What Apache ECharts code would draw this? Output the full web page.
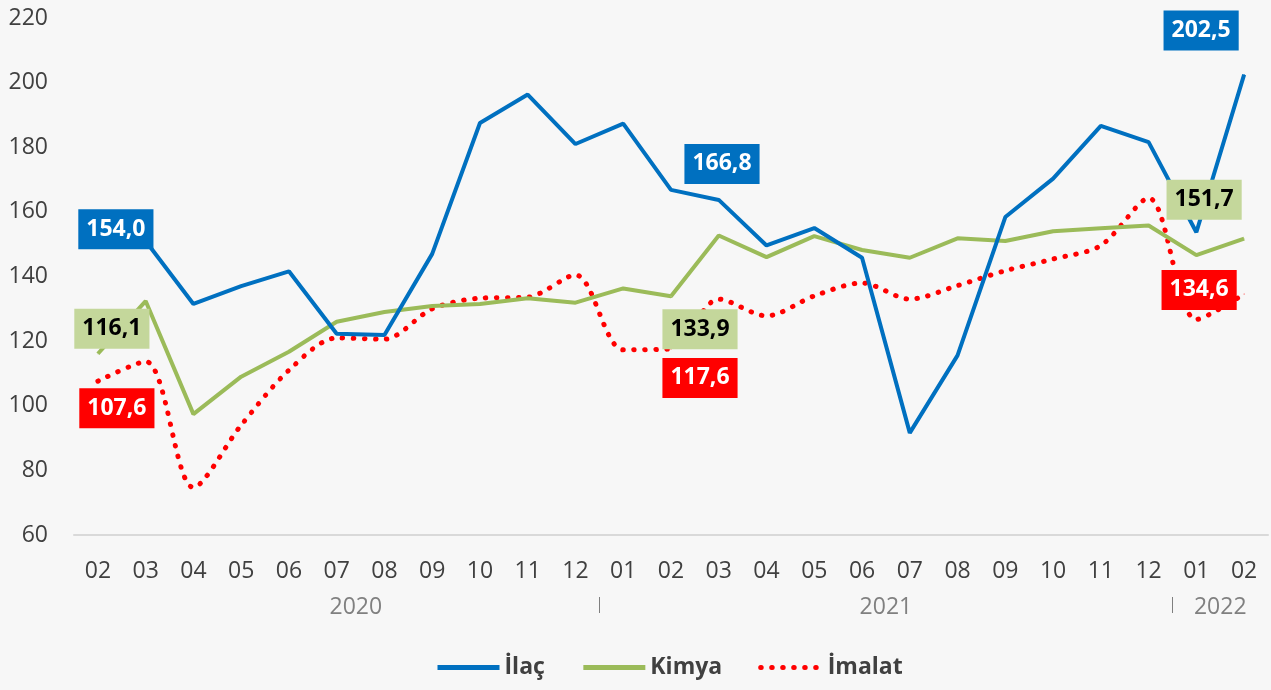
<!DOCTYPE html>
<html>
<head>
<meta charset="utf-8">
<script src="https://cdn.jsdelivr.net/npm/echarts@6/dist/echarts.min.js"></script>
<style>
  html, body { margin: 0; padding: 0; background: #f7f7f7; }
  #chart { width: 1271px; height: 690px; }
</style>
</head>
<body>
<div id="chart"></div>
<script>
// aylar: 2020-02 .. 2022-02
var months = ['02','03','04','05','06','07','08','09','10','11','12','01','02','03','04','05','06','07','08','09','10','11','12','01','02'];
var years = ['2020', '2021', '2022'];
var yearPos = [5.4, 16.5, 23.5];
var yearSep = [10.5, 22.5];

var ilac   = [154.0, 151.0, 131.5, 137.0, 141.6, 122.3, 121.9, 147.0, 187.5, 196.3, 181.0, 187.3, 166.8, 163.7, 149.6, 155.0, 145.8, 91.6, 115.6, 158.4, 170.3, 186.6, 181.6, 153.7, 202.5];
var kimya  = [116.1, 132.4, 97.4, 109.0, 116.7, 126.0, 129.0, 130.9, 131.5, 133.3, 131.9, 136.3, 133.9, 152.7, 146.0, 152.5, 148.2, 145.8, 151.8, 151.0, 154.0, 154.9, 155.8, 146.6, 151.7];
var imalat = [107.6, 113.7, 74.7, 94.0, 111.0, 121.0, 120.6, 130.0, 133.3, 133.6, 140.5, 117.3, 117.6, 133.0, 127.8, 134.0, 138.0, 133.0, 137.2, 141.8, 145.4, 149.6, 164.3, 126.7, 134.6];

var labelIdx = [0, 12, 24];

function fmt(v) { return v.toFixed(1).replace('.', ','); }

// etiketler ayri seri olarak, cizgilerin ustunde
function labelSeries(name, values, offsets, bg, fg) {
    return {
        name: name,
        type: 'scatter',
        z: 10,
        symbolSize: 1,
        itemStyle: { color: bg, opacity: 1 },
        silent: true,
        data: labelIdx.map(function (i, k) {
            return {
                value: [i, values[i]],
                label: {
                    show: true,
                    position: 'inside',
                    offset: offsets[k],
                    formatter: function (p) { return fmt(p.value[1]); },
                    backgroundColor: bg,
                    color: fg,
                    opacity: 1,
                    fontFamily: 'Open Sans',
                    fontWeight: 'bold',
                    fontSize: 23,
                    lineHeight: 26,
                    padding: [7, 8]
                }
            };
        })
    };
}

var chart = echarts.init(document.getElementById('chart'));

var option = {
    backgroundColor: '#f7f7f7',
    animation: false,
    grid: { left: 74, right: 3, top: 18, bottom: 155 },
    legend: {
        bottom: 6,
        left: 430,
        itemWidth: 62,
        itemHeight: 14,
        itemGap: 36,
        itemStyle: { opacity: 0 },
        lineStyle: { width: 5 },
        textStyle: { fontFamily: 'Open Sans', fontWeight: 'bold', fontSize: 23, color: '#404040' },
        data: ['İlaç', 'Kimya', 'İmalat']
    },
    xAxis: [
        {
            type: 'category',
            data: months,
            boundaryGap: true,
            axisLine: { lineStyle: { color: '#d9d9d9', width: 2 } },
            axisTick: { show: false },
            axisLabel: { margin: 25, fontFamily: 'Open Sans', fontSize: 23, color: '#404040' }
        },
        {
            type: 'value',
            position: 'bottom',
            offset: 62,
            min: -0.5,
            max: 24.5,
            axisLine: { show: false },
            splitLine: { show: false },
            axisTick: {
                show: true,
                customValues: yearSep,
                length: 16,
                lineStyle: { color: '#7f7f7f', width: 1 }
            },
            axisLabel: {
                customValues: yearPos,
                margin: -1,
                fontFamily: 'Open Sans',
                fontSize: 23,
                color: '#808080',
                formatter: function (v) {
                    var k = yearPos.indexOf(v);
                    return k >= 0 ? years[k] : '';
                }
            }
        }
    ],
    yAxis: {
        type: 'value',
        min: 60,
        max: 220,
        interval: 20,
        axisLine: { show: false },
        axisTick: { show: false },
        splitLine: { show: false },
        axisLabel: { margin: 26, fontFamily: 'Open Sans', fontSize: 23, color: '#404040' }
    },
    series: [
        {
            name: 'İmalat',
            type: 'line',
            symbol: 'none',
            smooth: 0.3,
            z: 2,
            lineStyle: { color: '#ff0000', width: 5, type: [0.5, 10.5], cap: 'round' },
            itemStyle: { color: '#ff0000' },
            data: imalat
        },
        {
            name: 'Kimya',
            type: 'line',
            symbol: 'none',
            z: 3,
            lineStyle: { color: '#9bbb59', width: 4 },
            itemStyle: { color: '#9bbb59' },
            data: kimya
        },
        {
            name: 'İlaç',
            type: 'line',
            symbol: 'none',
            z: 4,
            lineStyle: { color: '#0070c0', width: 4 },
            itemStyle: { color: '#0070c0' },
            data: ilac
        },
        labelSeries('imalat-etiket', imalat, [[19, 27], [29, 29], [-45, -4]], '#ff0000', '#ffffff'),
        labelSeries('kimya-etiket', kimya, [[14, -25], [29, 33], [-40, -39]], '#c4d79b', '#000000'),
        labelSeries('ilac-etiket', ilac, [[18, -2], [51, -26], [-43, -44]], '#0070c0', '#ffffff')
    ]
};

chart.setOption(option);
</script>
</body>
</html>
